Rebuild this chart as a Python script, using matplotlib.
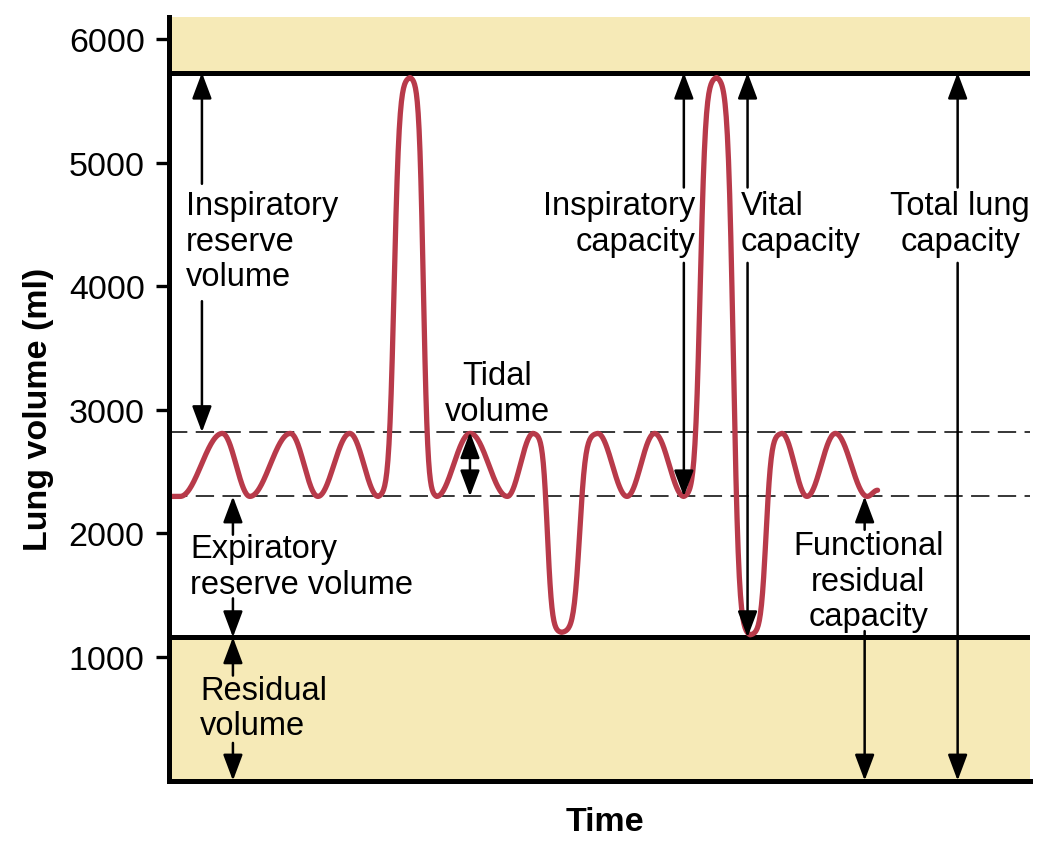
import numpy as np
import matplotlib.pyplot as plt

plt.rcParams['font.family'] = ['Liberation Sans', 'DejaVu Sans']

# levels (ml)
tlc = 5730
tidal_top = 2820
frc = 2300
rv = 1160
ytop = 6180

# spirometer trace: turning points (time, volume)
times = [0.3, 1.3, 6.2, 9.4, 14.1, 17.3, 21.0, 24.3, 28.0, 31.1, 35.0, 39.3,
         42.3, 45.6, 49.8, 53.2, 56.4, 59.8, 63.6, 67.5, 71.2, 74.1, 77.4,
         81.1, 82.3]
volumes = [2300, 2300, 2810, 2300, 2810, 2300, 2810, 2300, 5690, 2300, 2810,
           2300, 2810, 1200, 2810, 2300, 2810, 2300, 5690, 1180, 2810, 2300,
           2810, 2300, 2350]

yticks = [1000, 2000, 3000, 4000, 5000, 6000]

red = '#b83a4a'
fill = '#f6eab7'

# smooth curve between turning points; big swings get steep sides
tx, vy = [], []
for i in range(len(times) - 1):
    s = np.linspace(0, 1, 60)
    dv = volumes[i+1] - volumes[i]
    if abs(dv) > 1000:
        k = 6.0
        w = 0.5 + 0.5 * np.tanh(k * (s - 0.5)) / np.tanh(k / 2)
    else:
        w = (1 - np.cos(np.pi * s)) / 2
    tx.extend(times[i] + (times[i+1] - times[i]) * s)
    vy.extend(volumes[i] + dv * w)

fig = plt.figure(figsize=(10.41, 8.53), dpi=100)
ax = fig.add_axes([0.1623, 0.0837, 0.8271, 0.8952])

ax.axhspan(tlc, ytop, color=fill, lw=0, zorder=0)
ax.axhspan(0, rv, color=fill, lw=0, zorder=0)
ax.axhline(tlc, color='k', lw=3.6, zorder=3)
ax.axhline(rv, color='k', lw=3.6, zorder=3)
for lev in (tidal_top, frc):
    ax.axhline(lev, color='k', lw=1.1, dashes=(12, 5.5), zorder=1)

ax.plot(tx, vy, color=red, lw=3.8, solid_capstyle='round', zorder=4)


def arrow(x, y0, y1, style='-|>'):
    ax.annotate('', xy=(x, y1), xytext=(x, y0),
                arrowprops=dict(arrowstyle=style + ',head_length=0.8,head_width=0.3',
                                lw=1.8, color='k', shrinkA=0, shrinkB=0,
                                mutation_scale=20), zorder=5)


fs = 23.5
kw = dict(fontsize=fs, linespacing=1.2, va='center', zorder=6)

# inspiratory reserve volume
ax.text(1.97, 4366, 'Inspiratory\nreserve\nvolume', ha='left', **kw)
arrow(3.83, 4830, tlc)
arrow(3.83, 3880, tidal_top)

# expiratory reserve volume
ax.text(2.44, 1736, 'Expiratory\nreserve volume', ha='left', **kw)
arrow(7.43, 1990, frc)
arrow(7.43, 1475, rv)

# residual volume
ax.text(3.6, 587, 'Residual\nvolume', ha='left', **kw)
arrow(7.43, 850, rv)
arrow(7.43, 305, 0)

# tidal volume
ax.text(38.1, 3136, 'Tidal\nvolume', ha='center', multialignment='center', **kw)
arrow(34.96, frc, tidal_top, style='<|-|>')

# inspiratory capacity
ax.text(61.1, 4511, 'Inspiratory\ncapacity', ha='right', multialignment='right', **kw)
arrow(59.8, 4800, tlc)
arrow(59.8, 4190, frc)

# vital capacity
ax.text(66.4, 4511, 'Vital\ncapacity', ha='left', **kw)
arrow(67.2, 4800, tlc)
arrow(67.2, 4190, rv)

# total lung capacity
ax.text(91.9, 4511, 'Total lung\ncapacity', ha='center', multialignment='center', **kw)
arrow(91.6, 4800, tlc)
arrow(91.6, 4190, 0)

# functional residual capacity
ax.text(81.2, 1615, 'Functional\nresidual\ncapacity', ha='center',
        multialignment='center', **kw)
arrow(80.8, 2030, frc)
arrow(80.8, 1210, 0)

ax.set_xlim(0, 100)
ax.set_ylim(0, ytop)
ax.set_yticks(yticks)
ax.set_xticks([])
ax.tick_params(axis='y', length=9.5, width=2.4, pad=8, labelsize=24.5)
for side in ('top', 'right'):
    ax.spines[side].set_visible(False)
for side in ('left', 'bottom'):
    ax.spines[side].set_linewidth(3.6)
    ax.spines[side].set_zorder(7)

ax.set_ylabel('Lung volume (ml)', fontsize=24.5, fontweight='bold')
ax.yaxis.set_label_coords(-0.152, 0.487)
ax.yaxis.label.set_va('center')
ax.set_xlabel('Time', fontsize=24.5, fontweight='bold')
ax.xaxis.set_label_coords(0.506, -0.054)
ax.xaxis.label.set_va('center')

plt.savefig('out.png', dpi=100)
